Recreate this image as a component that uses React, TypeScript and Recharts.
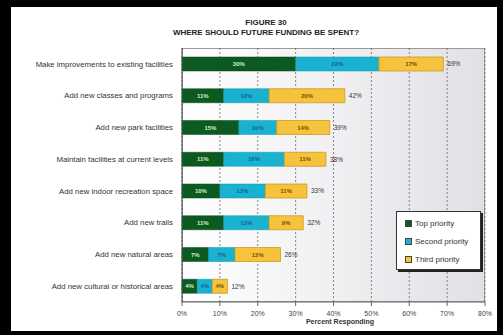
import React from 'react';
import { BarChart, Bar, XAxis, YAxis, CartesianGrid, LabelList, Legend } from 'recharts';

const categories = [
  'Make improvements to existing facilities',
  'Add new classes and programs',
  'Add new park facilities',
  'Maintain facilities at current levels',
  'Add new indoor recreation space',
  'Add new trails',
  'Add new natural areas',
  'Add new cultural or historical areas',
];
const topPriority = [30, 11, 15, 11, 10, 11, 7, 4];
const secondPriority = [22, 12, 10, 16, 12, 12, 7, 4];
const thirdPriority = [17, 20, 14, 11, 11, 9, 12, 4];
const totals = [69, 42, 39, 38, 33, 32, 26, 12];
const xTicks = [0, 10, 20, 30, 40, 50, 60, 70, 80];
const boundaryTicks = [0, 1, 2, 3, 4, 5, 6, 7, 8];
const seriesNames = ['Top priority', 'Second priority', 'Third priority'];
const seriesColors = ['#0b5a1f', '#1ab3cf', '#f7c33d'];

const data = categories.map((name, i) => ({
  name,
  top: topPriority[i],
  second: secondPriority[i],
  third: thirdPriority[i],
  total: totals[i],
}));

const FONT = '"Liberation Sans", Arial, sans-serif';
const pct = (v: any) => `${v}%`;

const CategoryTick = (props: any) => {
  const { x, y, payload } = props;
  return (
    <text x={x} y={y} dy="0.35em" textAnchor="end" fontSize={7.8} fill="#333" fontFamily={FONT}>
      {payload.value}
    </text>
  );
};

const LegendBox = () => (
  <div
    style={{
      width: 85,
      height: 59,
      boxSizing: 'border-box',
      background: '#fff',
      border: '1px solid #333',
      boxShadow: '2px 2px 0 #222',
      padding: '2px 0 0 8px',
      fontFamily: FONT,
      fontSize: 8,
      color: '#333',
    }}
  >
    {seriesNames.map((n, i) => (
      <div key={i} style={{ display: 'flex', alignItems: 'center', height: 18 }}>
        <span
          style={{
            display: 'inline-block',
            width: 5,
            height: 5,
            background: seriesColors[i],
            border: '1px solid #444',
            marginRight: 3,
          }}
        />
        <span style={{ whiteSpace: 'nowrap' }}>{n}</span>
      </div>
    ))}
  </div>
);

export default function App() {
  return (
    <div style={{ position: 'absolute', left: 0, top: 0, width: 503, height: 335, background: '#000', overflow: 'hidden' }}>
      <div style={{ position: 'absolute', left: 11, top: 7, width: 486, height: 324, background: '#fff' }} />
      <div
        style={{
          position: 'absolute',
          left: 182,
          top: 48,
          width: 303,
          height: 254,
          boxSizing: 'border-box',
          border: '1px solid #9a9a9a',
          background: 'linear-gradient(to right, #ffffff 0%, #f3f3f5 40%, #e1e1e6 100%)',
        }}
      />
      <div
        style={{
          position: 'absolute',
          left: 166,
          top: 18,
          width: 200,
          textAlign: 'center',
          fontFamily: FONT,
          fontWeight: 'bold',
          fontSize: 8,
          lineHeight: '10px',
          color: '#222',
          whiteSpace: 'nowrap',
        }}
      >
        <div>FIGURE 30</div>
        <div>WHERE SHOULD FUTURE FUNDING BE SPENT?</div>
      </div>
      <div
        style={{
          position: 'absolute',
          left: 240,
          top: 318,
          width: 200,
          textAlign: 'center',
          fontFamily: FONT,
          fontWeight: 'bold',
          fontSize: 7,
          color: '#333',
        }}
      >
        Percent Responding
      </div>
      <div style={{ position: 'absolute', left: 0, top: 0 }}>
        <BarChart
          width={503}
          height={335}
          data={data}
          layout="vertical"
          margin={{ top: 48, right: 18, bottom: 0, left: 0 }}
          barCategoryGap={0}
        >
          <CartesianGrid
            horizontal={false}
            vertical={true}
            stroke="#555"
            strokeDasharray="2 2"
            strokeWidth={0.7}
            yAxisId="cat"
          />
          <XAxis
            type="number"
            domain={[0, 80]}
            ticks={xTicks}
            tickFormatter={pct}
            height={33}
            tickSize={4}
            tickMargin={5}
            stroke="#666"
            tick={{ fontSize: 7, fill: '#444', fontFamily: FONT }}
            interval={0}
          />
          <YAxis
            yAxisId="grid"
            type="number"
            domain={[0, 8]}
            ticks={boundaryTicks}
            tick={false}
            tickSize={3}
            width={0}
            axisLine={false}
            stroke="#555"
          />
          <YAxis
            yAxisId="cat"
            type="category"
            dataKey="name"
            width={182}
            tickSize={0}
            tickMargin={9}
            stroke="#555"
            interval={0}
            tick={<CategoryTick />}
          />
          <Legend
            layout="vertical"
            align="center"
            verticalAlign="middle"
            content={<LegendBox />}
            wrapperStyle={{ position: 'absolute', left: 396, top: 211, width: 85, height: 59 }}
          />
          <Bar dataKey="top" name={seriesNames[0]} stackId="a" yAxisId="cat" fill={seriesColors[0]} stroke="#08461a" strokeWidth={0.5} barSize={14} isAnimationActive={false}>
            <LabelList dataKey="top" position="center" formatter={pct} fill="#d8ecd0" fontSize={6} fontWeight="bold" fontFamily={FONT} />
          </Bar>
          <Bar dataKey="second" name={seriesNames[1]} stackId="a" yAxisId="cat" fill={seriesColors[1]} stroke="#1593ab" strokeWidth={0.5} barSize={14} isAnimationActive={false}>
            <LabelList dataKey="second" position="center" formatter={pct} fill="#1c5c9c" fontSize={6} fontWeight="bold" fontFamily={FONT} />
          </Bar>
          <Bar dataKey="third" name={seriesNames[2]} stackId="a" yAxisId="cat" fill={seriesColors[2]} stroke="#c99a25" strokeWidth={0.8} barSize={14} isAnimationActive={false}>
            <LabelList dataKey="third" position="center" formatter={pct} fill="#6e5206" fontSize={6} fontWeight="bold" fontFamily={FONT} />
            <LabelList dataKey="total" position="right" offset={4} formatter={pct} fill="#333" fontSize={6.5} fontFamily={FONT} />
          </Bar>
        </BarChart>
      </div>
    </div>
  );
}
